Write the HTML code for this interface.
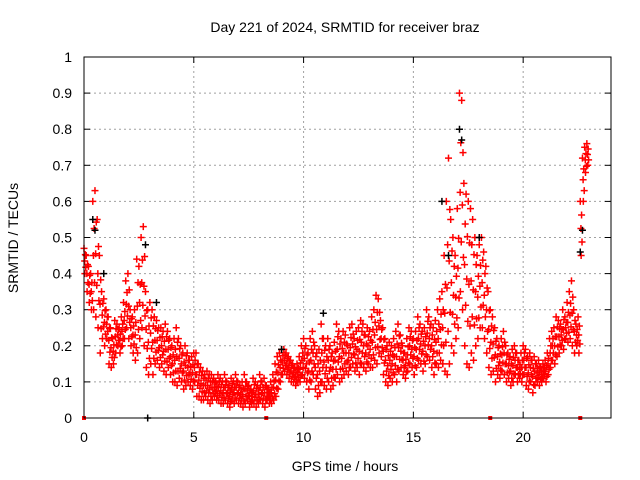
<!DOCTYPE html>
<html><head><meta charset="utf-8"><style>
html,body{margin:0;padding:0;background:#fff;}
svg{display:block;font-family:"Liberation Sans",sans-serif;}
</style></head><body>
<svg id="chart" width="640" height="480" xmlns="http://www.w3.org/2000/svg">
<text x="345" y="32" text-anchor="middle" font-size="14" fill="#000">Day 221 of 2024, SRMTID for receiver braz</text>
<text x="345" y="471" text-anchor="middle" font-size="14" fill="#000">GPS time / hours</text>
<text transform="translate(18,238) rotate(-90)" text-anchor="middle" font-size="14" fill="#000">SRMTID / TECUs</text>
<g id="grid"></g><g id="ticks"></g><g id="marks"></g>
<rect x="84" y="57" width="527" height="361" fill="none" stroke="#000" stroke-width="1"/>
</svg>
<script>
const xTicks=[0,5,10,15,20];
const yTicks=[0,0.1,0.2,0.3,0.4,0.5,0.6,0.7,0.8,0.9,1];
const yTickLabels=["0","0.1","0.2","0.3","0.4","0.5","0.6","0.7","0.8","0.9","1"];
const startHour=0.0;
const stepHours=0.1;
const hiVals=[0.47,0.45,0.42,0.40,0.60,0.63,0.55,0.45,0.35,0.33,0.30,
0.28,0.25,0.22,0.27,0.26,0.25,0.28,0.32,0.38,0.40,
0.30,0.28,0.30,0.44,0.42,0.50,0.53,0.35,0.30,0.32,
0.30,0.28,0.27,0.25,0.25,0.24,0.26,0.24,0.22,0.20,
0.22,0.25,0.22,0.20,0.18,0.20,0.18,0.16,0.17,0.18,
0.18,0.15,0.14,0.13,0.12,0.13,0.12,0.12,0.11,0.10,
0.12,0.11,0.10,0.12,0.10,0.09,0.11,0.10,0.12,0.10,
0.09,0.10,0.12,0.10,0.09,0.08,0.11,0.10,0.09,0.12,
0.10,0.11,0.09,0.08,0.10,0.12,0.15,0.17,0.18,0.19,
0.19,0.18,0.17,0.16,0.15,0.14,0.15,0.17,0.20,0.22,
0.20,0.18,0.22,0.24,0.20,0.18,0.19,0.26,0.22,0.20,
0.22,0.20,0.18,0.21,0.26,0.24,0.22,0.24,0.23,0.20,
0.25,0.26,0.22,0.24,0.25,0.27,0.26,0.23,0.25,0.24,
0.28,0.30,0.34,0.33,0.27,0.25,0.22,0.20,0.21,0.20,
0.22,0.24,0.26,0.23,0.20,0.18,0.22,0.25,0.24,0.22,
0.24,0.28,0.26,0.24,0.25,0.30,0.28,0.26,0.25,0.27,
0.30,0.33,0.35,0.45,0.60,0.72,0.55,0.50,0.45,0.58,
0.90,0.88,0.65,0.62,0.60,0.58,0.55,0.50,0.45,0.48,
0.50,0.46,0.42,0.35,0.30,0.28,0.25,0.22,0.20,0.22,
0.24,0.20,0.18,0.17,0.19,0.20,0.18,0.16,0.18,0.20,
0.19,0.17,0.18,0.16,0.17,0.15,0.16,0.14,0.15,0.16,
0.18,0.22,0.24,0.25,0.28,0.27,0.26,0.30,0.28,0.32,
0.35,0.38,0.30,0.26,0.28,0.60,0.72,0.75,0.76];
const loVals=[0.40,0.35,0.32,0.30,0.30,0.28,0.25,0.18,0.22,0.20,0.22,
0.15,0.14,0.15,0.18,0.20,0.18,0.20,0.22,0.25,0.22,
0.20,0.18,0.16,0.18,0.22,0.25,0.20,0.14,0.12,0.15,
0.12,0.15,0.16,0.14,0.15,0.13,0.12,0.14,0.12,0.10,
0.10,0.09,0.11,0.10,0.08,0.09,0.10,0.09,0.08,0.10,
0.06,0.06,0.05,0.05,0.06,0.05,0.04,0.05,0.06,0.05,
0.05,0.04,0.04,0.05,0.04,0.03,0.05,0.04,0.05,0.04,
0.04,0.03,0.04,0.05,0.03,0.04,0.04,0.03,0.04,0.05,
0.04,0.03,0.05,0.04,0.04,0.05,0.06,0.08,0.10,0.12,
0.13,0.12,0.11,0.10,0.10,0.09,0.10,0.10,0.12,0.11,
0.10,0.08,0.10,0.12,0.08,0.06,0.07,0.10,0.09,0.08,
0.10,0.08,0.09,0.11,0.12,0.10,0.11,0.12,0.13,0.12,
0.14,0.15,0.13,0.14,0.12,0.15,0.14,0.13,0.15,0.14,
0.14,0.16,0.15,0.18,0.17,0.12,0.10,0.09,0.11,0.10,
0.12,0.10,0.13,0.14,0.12,0.11,0.13,0.15,0.14,0.12,
0.14,0.16,0.15,0.13,0.15,0.17,0.16,0.14,0.12,0.15,
0.14,0.16,0.15,0.13,0.12,0.15,0.20,0.18,0.22,0.25,
0.35,0.30,0.20,0.15,0.14,0.18,0.16,0.20,0.22,0.25,
0.25,0.22,0.18,0.14,0.12,0.13,0.10,0.12,0.11,0.13,
0.12,0.10,0.11,0.09,0.10,0.12,0.10,0.11,0.10,0.12,
0.09,0.08,0.10,0.07,0.09,0.10,0.09,0.10,0.11,0.10,
0.12,0.14,0.16,0.15,0.17,0.18,0.20,0.19,0.22,0.21,
0.22,0.20,0.18,0.20,0.18,0.45,0.60,0.68,0.70];
const blackTimes=[0.4,0.5,0.9,2.8,2.9,3.3,9.0,10.9,16.3,16.6,17.1,17.2,18.0,22.6,22.7];
const blackVals=[0.55,0.52,0.40,0.48,0.00,0.32,0.19,0.29,0.60,0.45,0.80,0.77,0.50,0.46,0.52];
const flagTimes=[0,8.3,18.5,22.6];

const NS="http://www.w3.org/2000/svg";
const X0=84,X1=611,Y0=418,Y1=57;
function xs(h){return X0+(h/24)*(X1-X0);}
function ys(v){return Y0-v*(Y0-Y1);}
const grid=document.getElementById('grid'),ticks=document.getElementById('ticks'),marks=document.getElementById('marks');
function mk(tag,attrs,parent){const e=document.createElementNS(NS,tag);for(const k in attrs)e.setAttribute(k,attrs[k]);parent.appendChild(e);return e;}
xTicks.forEach(t=>{
 const x=xs(t);
 if(t>0){const g=mk('line',{x1:x,x2:x,y1:Y0,y2:Y1,stroke:'#a0a0a0','stroke-dasharray':'2,3'},grid);
 
 }
 mk('line',{x1:x,x2:x,y1:Y0,y2:Y0-6,stroke:'#000'},ticks);
 mk('line',{x1:x,x2:x,y1:Y1,y2:Y1+6,stroke:'#000'},ticks);
 const l=mk('text',{x:x,y:Y0+24,'text-anchor':'middle','font-size':14},ticks);l.textContent=t;
 
 
});
yTicks.forEach((v,i)=>{
 const y=ys(v);
 if(v>0&&v<1){const g=mk('line',{x1:X0,x2:X1,y1:y,y2:y,stroke:'#a0a0a0','stroke-dasharray':'2,3'},grid);
 
 }
 mk('line',{x1:X0,x2:X0+6,y1:y,y2:y,stroke:'#000'},ticks);
 mk('line',{x1:X1,x2:X1-6,y1:y,y2:y,stroke:'#000'},ticks);
 const l=mk('text',{x:X0-12,y:y+5,'text-anchor':'end','font-size':14},ticks);l.textContent=yTickLabels[i];
 
 
});
function plus(h,v,color){
 const x=xs(h),y=ys(v);
 const p=mk('path',{d:`M${x-3.5} ${y}H${x+3.5}M${x} ${y-3.5}V${y+3.5}`,stroke:color,'stroke-width':1.5,fill:'none'},marks);
 
 
}
const fracs=[0,0.25,0.5,0.75,1];
const offs=[0,0.06,0.03,0.08,0.04];
hiVals.forEach((v,i)=>{
 const lo=loVals[i];
 fracs.forEach((f,k)=>{plus(startHour+i*stepHours+offs[k],v+(lo-v)*f,'#ff0000');});
});
blackTimes.forEach((h,i)=>plus(h,blackVals[i],'#000000'));
flagTimes.forEach(h=>{
 const r=mk('rect',{x:xs(h)-2,y:Y0-2,width:4,height:4,fill:'#ff0000'},marks);
 
 
});
</script>
</body></html>
